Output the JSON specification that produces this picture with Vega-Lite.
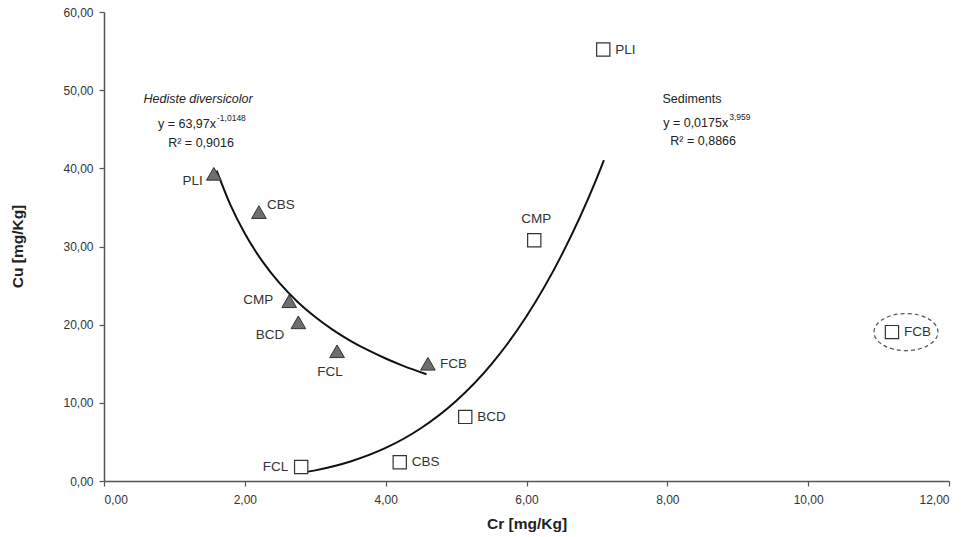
{
  "$schema": "https://vega.github.io/schema/vega-lite/v6.json",
  "width": 845,
  "height": 469,
  "autosize": "none",
  "padding": {"left": 104, "top": 12, "right": 24, "bottom": 56},
  "background": "white",
  "config": {
    "view": {"stroke": null},
    "font": "Liberation Sans",
    "axis": {
      "grid": false,
      "domainColor": "#555",
      "domainWidth": 1.5,
      "tickColor": "#555",
      "tickWidth": 1.2,
      "tickSize": 5,
      "labelFont": "Liberation Sans",
      "labelFontSize": 12,
      "labelColor": "#333",
      "titleFont": "Liberation Sans",
      "titleFontSize": 15.5,
      "titleFontWeight": "bold",
      "titleColor": "#222"
    }
  },
  "datasets": {
    "points": [
      {"series": "Hediste", "site": "PLI", "cr": 1.56, "cu": 39.3},
      {"series": "Hediste", "site": "CBS", "cr": 2.20, "cu": 34.4},
      {"series": "Hediste", "site": "CMP", "cr": 2.63, "cu": 23.0},
      {"series": "Hediste", "site": "BCD", "cr": 2.76, "cu": 20.3},
      {"series": "Hediste", "site": "FCL", "cr": 3.31, "cu": 16.6},
      {"series": "Hediste", "site": "FCB", "cr": 4.60, "cu": 15.0},
      {"series": "Sediments", "site": "PLI", "cr": 7.09, "cu": 55.2},
      {"series": "Sediments", "site": "CMP", "cr": 6.11, "cu": 30.8},
      {"series": "Sediments", "site": "FCB", "cr": 11.19, "cu": 19.05},
      {"series": "Sediments", "site": "BCD", "cr": 5.13, "cu": 8.2},
      {"series": "Sediments", "site": "CBS", "cr": 4.20, "cu": 2.4},
      {"series": "Sediments", "site": "FCL", "cr": 2.80, "cu": 1.8}
    ],
    "fits": [
      {"series": "Hediste", "cr": 1.6, "cu": 39.71},
      {"series": "Hediste", "cr": 1.8, "cu": 35.23},
      {"series": "Hediste", "cr": 2.0, "cu": 31.66},
      {"series": "Hediste", "cr": 2.25, "cu": 28.09},
      {"series": "Hediste", "cr": 2.5, "cu": 25.24},
      {"series": "Hediste", "cr": 2.75, "cu": 22.91},
      {"series": "Hediste", "cr": 3.0, "cu": 20.98},
      {"series": "Hediste", "cr": 3.25, "cu": 19.34},
      {"series": "Hediste", "cr": 3.5, "cu": 17.94},
      {"series": "Hediste", "cr": 3.75, "cu": 16.73},
      {"series": "Hediste", "cr": 4.0, "cu": 15.67},
      {"series": "Hediste", "cr": 4.25, "cu": 14.73},
      {"series": "Hediste", "cr": 4.58, "cu": 13.66},
      {"series": "Sediments", "cr": 2.8, "cu": 1.03},
      {"series": "Sediments", "cr": 3.0, "cu": 1.36},
      {"series": "Sediments", "cr": 3.5, "cu": 2.50},
      {"series": "Sediments", "cr": 4.0, "cu": 4.23},
      {"series": "Sediments", "cr": 4.5, "cu": 6.75},
      {"series": "Sediments", "cr": 5.0, "cu": 10.24},
      {"series": "Sediments", "cr": 5.5, "cu": 14.93},
      {"series": "Sediments", "cr": 6.0, "cu": 21.07},
      {"series": "Sediments", "cr": 6.5, "cu": 28.93},
      {"series": "Sediments", "cr": 7.0, "cu": 38.79},
      {"series": "Sediments", "cr": 7.1, "cu": 41.05}
    ],
    "notes": [
      {"kind": "name", "text": "Hediste diversicolor", "cr": 1.335, "cu": 48.85},
      {"kind": "eq", "text": "y = 63,97x", "cr": 1.591, "cu": 45.65},
      {"kind": "sup", "text": "-1,0148", "cr": 1.605, "cu": 46.45},
      {"kind": "r2", "text": "R² = 0,9016", "cr": 1.378, "cu": 43.22},
      {"kind": "r2", "text": "Sediments", "cr": 8.35, "cu": 48.85},
      {"kind": "eq", "text": "y = 0,0175x", "cr": 8.864, "cu": 45.78},
      {"kind": "sup", "text": "3,959", "cr": 8.878, "cu": 46.58},
      {"kind": "r2", "text": "R² = 0,8866", "cr": 8.509, "cu": 43.48}
    ]
  },
  "encoding": {
    "x": {
      "field": "cr", "type": "quantitative",
      "scale": {"domain": [0, 12], "nice": false, "zero": false},
      "axis": {"values": [0, 2, 4, 6, 8, 10, 12], "labelExpr": "replace(format(datum.value, '.2f'), '.', ',')", "title": "Cr [mg/Kg]", "labelPadding": 8, "titleY": 42, "titleBaseline": "middle"}
    },
    "y": {
      "field": "cu", "type": "quantitative",
      "scale": {"domain": [0, 60], "nice": false, "zero": false},
      "axis": {"values": [0, 10, 20, 30, 40, 50, 60], "labelExpr": "replace(format(datum.value, '.2f'), '.', ',')", "title": "Cu [mg/Kg]", "labelPadding": 6, "titleX": -87, "titleY": 234, "titleAngle": -90, "titleAlign": "center", "titleBaseline": "middle"}
    }
  },
  "layer": [
    {
      "data": {"name": "fits"},
      "mark": {"type": "line", "color": "#111", "strokeWidth": 2, "interpolate": "monotone"},
      "encoding": {"detail": {"field": "series"}}
    },
    {
      "data": {"name": "points"},
      "transform": [{"filter": "datum.series == 'Hediste'"}],
      "mark": {"type": "point", "shape": "triangle-up", "filled": true, "fill": "#6e6e6e", "stroke": "#333", "strokeWidth": 1, "size": 215, "opacity": 1}
    },
    {
      "data": {"name": "points"},
      "transform": [{"filter": "datum.series == 'Sediments'"}],
      "mark": {"type": "point", "shape": "square", "filled": false, "fill": "white", "stroke": "#333", "strokeWidth": 1.2, "size": 175, "opacity": 1}
    },
    {
      "data": {"name": "points"},
      "transform": [{"filter": "datum.series == 'Sediments' && datum.site == 'FCB'"}],
      "mark": {"type": "point", "shape": "M -1 0 A 1 0.58 0 1 1 1 0 A 1 0.58 0 1 1 -1 0 Z", "filled": false, "stroke": "#555", "strokeWidth": 1.2, "strokeDash": [4, 3], "size": 4096, "xOffset": 14, "opacity": 1}
    },
    {
      "data": {"name": "points"},
      "transform": [{"filter": "(datum.series == 'Sediments' && indexof(['PLI','FCB','BCD','CBS'], datum.site) >= 0) || (datum.series == 'Hediste' && datum.site == 'FCB')"}],
      "mark": {"type": "text", "align": "left", "baseline": "middle", "dx": 12, "fontSize": 13.5, "color": "#333"},
      "encoding": {"text": {"field": "site"}}
    },
    {
      "data": {"name": "points"},
      "transform": [{"filter": "datum.series == 'Sediments' && datum.site == 'FCL'"}],
      "mark": {"type": "text", "align": "right", "baseline": "middle", "dx": -13, "fontSize": 13.5, "color": "#333"},
      "encoding": {"text": {"field": "site"}}
    },
    {
      "data": {"name": "points"},
      "transform": [{"filter": "datum.series == 'Sediments' && datum.site == 'CMP'"}],
      "mark": {"type": "text", "align": "center", "baseline": "middle", "dy": -21, "dx": 2, "fontSize": 13.5, "color": "#333"},
      "encoding": {"text": {"field": "site"}}
    },
    {
      "data": {"name": "points"},
      "transform": [{"filter": "datum.series == 'Hediste' && datum.site == 'PLI'"}],
      "mark": {"type": "text", "align": "right", "baseline": "middle", "dx": -11, "dy": 7, "fontSize": 13.5, "color": "#333"},
      "encoding": {"text": {"field": "site"}}
    },
    {
      "data": {"name": "points"},
      "transform": [{"filter": "datum.series == 'Hediste' && datum.site == 'CBS'"}],
      "mark": {"type": "text", "align": "left", "baseline": "middle", "dx": 8, "dy": -7, "fontSize": 13.5, "color": "#333"},
      "encoding": {"text": {"field": "site"}}
    },
    {
      "data": {"name": "points"},
      "transform": [{"filter": "datum.series == 'Hediste' && datum.site == 'CMP'"}],
      "mark": {"type": "text", "align": "right", "baseline": "middle", "dx": -16, "dy": -1, "fontSize": 13.5, "color": "#333"},
      "encoding": {"text": {"field": "site"}}
    },
    {
      "data": {"name": "points"},
      "transform": [{"filter": "datum.series == 'Hediste' && datum.site == 'BCD'"}],
      "mark": {"type": "text", "align": "right", "baseline": "middle", "dx": -14, "dy": 13, "fontSize": 13.5, "color": "#333"},
      "encoding": {"text": {"field": "site"}}
    },
    {
      "data": {"name": "points"},
      "transform": [{"filter": "datum.series == 'Hediste' && datum.site == 'FCL'"}],
      "mark": {"type": "text", "align": "center", "baseline": "middle", "dx": -7, "dy": 21, "fontSize": 13.5, "color": "#333"},
      "encoding": {"text": {"field": "site"}}
    },
    {
      "data": {"name": "notes"},
      "transform": [{"filter": "datum.kind == 'name'"}],
      "mark": {"type": "text", "align": "center", "baseline": "middle", "fontSize": 12.5, "fontStyle": "italic", "color": "#222"},
      "encoding": {"text": {"field": "text"}}
    },
    {
      "data": {"name": "notes"},
      "transform": [{"filter": "datum.kind == 'eq'"}],
      "mark": {"type": "text", "align": "right", "baseline": "middle", "fontSize": 12.5, "color": "#222"},
      "encoding": {"text": {"field": "text"}}
    },
    {
      "data": {"name": "notes"},
      "transform": [{"filter": "datum.kind == 'sup'"}],
      "mark": {"type": "text", "align": "left", "baseline": "middle", "fontSize": 8.5, "color": "#222"},
      "encoding": {"text": {"field": "text"}}
    },
    {
      "data": {"name": "notes"},
      "transform": [{"filter": "datum.kind == 'r2'"}],
      "mark": {"type": "text", "align": "center", "baseline": "middle", "fontSize": 12.5, "color": "#222"},
      "encoding": {"text": {"field": "text"}}
    }
  ]
}
